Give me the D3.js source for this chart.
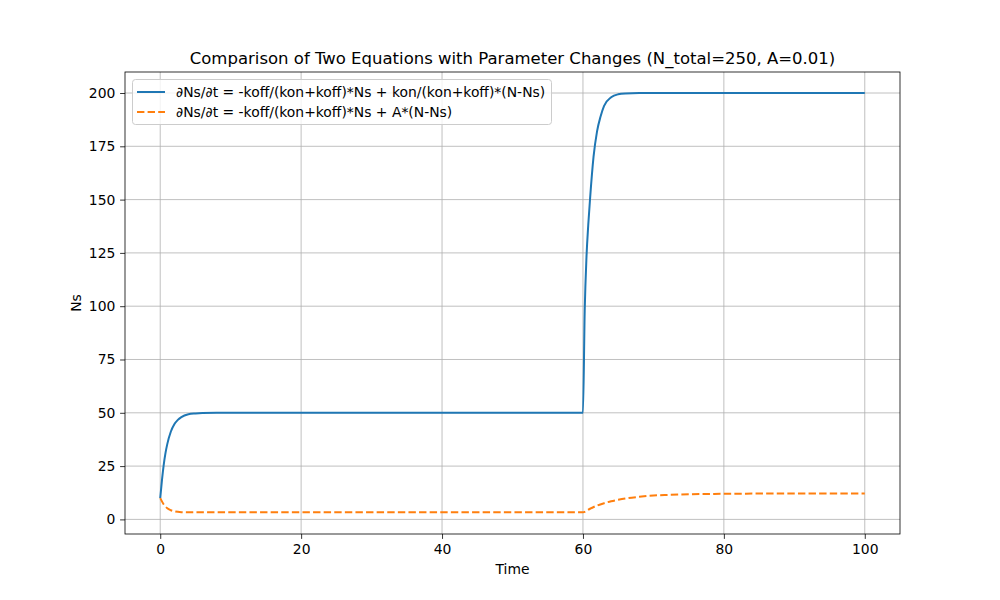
<!DOCTYPE html>
<html>
<head>
<meta charset="utf-8">
<script src="https://cdn.jsdelivr.net/npm/d3@7"></script>
<style>
  body { margin: 0; background: #fff; }
  text { font-family: "DejaVu Sans", sans-serif; fill: #000; }
</style>
</head>
<body>
<svg id="chart" width="1000" height="600"></svg>
<script>
// values
var blueTime = [0, 0.25, 0.5, 0.75, 1, 1.5, 2, 2.5, 3, 4, 5, 6, 8, 60, 60.25, 60.5, 60.75, 61, 61.5, 62, 62.5, 63, 64, 65, 66, 68, 100];
var blueNs   = [10, 18.5, 25.7, 31.2, 35.3, 41.1, 44.6, 46.7, 48.0, 49.3, 49.7, 49.9, 50, 50, 98, 123, 138, 150, 170, 182, 189, 194, 198, 199.4, 199.8, 200, 200];

var orangeTime = [0, 0.5, 1, 1.5, 2, 3, 4, 60, 61, 62, 63, 64, 65, 66, 68, 70, 72, 75, 80, 85, 100];
var orangeNs   = [10, 7.0, 5.2, 4.3, 3.8, 3.4, 3.3, 3.3, 5.0, 6.5, 7.6, 8.5, 9.2, 9.8, 10.6, 11.2, 11.5, 11.8, 12.0, 12.1, 12.1];

var xTicks = [0, 20, 40, 60, 80, 100];
var yTicks = [0, 25, 50, 75, 100, 125, 150, 175, 200];

var seriesNames = [
  "∂Ns/∂t = -koff/(kon+koff)*Ns + kon/(kon+koff)*(N-Ns)",
  "∂Ns/∂t = -koff/(kon+koff)*Ns + A*(N-Ns)"
];
var seriesColors = ["#1f77b4", "#ff7f0e"];

var svg = d3.select("#chart");
var axLeft = 125, axRight = 900, axTop = 72, axBottom = 534;

var x = d3.scaleLinear().domain([-5, 105]).range([axLeft, axRight]);
var y = d3.scaleLinear().domain([-6.85, 209.85]).range([axBottom, axTop]);

// grid
svg.append("g").selectAll("line").data(xTicks).enter().append("line")
  .attr("x1", d => x(d)).attr("x2", d => x(d))
  .attr("y1", axTop).attr("y2", axBottom)
  .attr("stroke", "#b0b0b0").attr("stroke-width", 0.8);
svg.append("g").selectAll("line").data(yTicks).enter().append("line")
  .attr("x1", axLeft).attr("x2", axRight)
  .attr("y1", d => y(d)).attr("y2", d => y(d))
  .attr("stroke", "#b0b0b0").attr("stroke-width", 0.8);

// lines
var line = d3.line().x(d => x(d[0])).y(d => y(d[1])).curve(d3.curveMonotoneX);
svg.append("path")
  .datum(d3.zip(blueTime, blueNs))
  .attr("d", line).attr("fill", "none")
  .attr("stroke", seriesColors[0]).attr("stroke-width", 2);
svg.append("path")
  .datum(d3.zip(orangeTime, orangeNs))
  .attr("d", line).attr("fill", "none")
  .attr("stroke", seriesColors[1]).attr("stroke-width", 2)
  .attr("stroke-dasharray", "7.4,3.2");

// axes
var xAxis = svg.append("g").attr("transform", `translate(0,${axBottom})`)
  .call(d3.axisBottom(x).tickValues(xTicks).tickSize(4.9).tickPadding(4.8));
var yAxis = svg.append("g").attr("transform", `translate(${axLeft},0)`)
  .call(d3.axisLeft(y).tickValues(yTicks).tickSize(4.9).tickPadding(4.8));
[xAxis, yAxis].forEach(a => {
  a.select(".domain").remove();
  a.selectAll("line").attr("stroke", "#000").attr("stroke-width", 0.8);
  a.selectAll("text").style("font-family", "DejaVu Sans").style("font-size", "13.9px").attr("fill", "#000");
});

// frame
svg.append("rect")
  .attr("x", axLeft).attr("y", axTop)
  .attr("width", axRight - axLeft).attr("height", axBottom - axTop)
  .attr("fill", "none").attr("stroke", "#000").attr("stroke-width", 0.8);

// title and labels
svg.append("text").attr("x", (axLeft + axRight) / 2).attr("y", 64)
  .attr("text-anchor", "middle").style("font-size", "16.5px")
  .text("Comparison of Two Equations with Parameter Changes (N_total=250, A=0.01)");
svg.append("text").attr("x", (axLeft + axRight) / 2).attr("y", 574)
  .attr("text-anchor", "middle").style("font-size", "13.9px").text("Time");
svg.append("text").attr("transform", "translate(81,303) rotate(-90)")
  .attr("text-anchor", "middle").style("font-size", "13.9px").text("Ns");

// legend
var lg = svg.append("g");
lg.append("rect").attr("x", 132.5).attr("y", 79.5).attr("width", 419).attr("height", 45)
  .attr("rx", 3).attr("fill", "#fff").attr("fill-opacity", 0.8)
  .attr("stroke", "#cccccc").attr("stroke-width", 1);
seriesNames.forEach((name, i) => {
  var cy = 92 + i * 20;
  lg.append("line").attr("x1", 137).attr("x2", 165).attr("y1", cy).attr("y2", cy)
    .attr("stroke", seriesColors[i]).attr("stroke-width", 2)
    .attr("stroke-dasharray", i == 1 ? "7.4,3.2" : null);
  lg.append("text").attr("x", 176).attr("y", cy + 5).style("font-size", "13.9px").text(name);
});
</script>
</body>
</html>
